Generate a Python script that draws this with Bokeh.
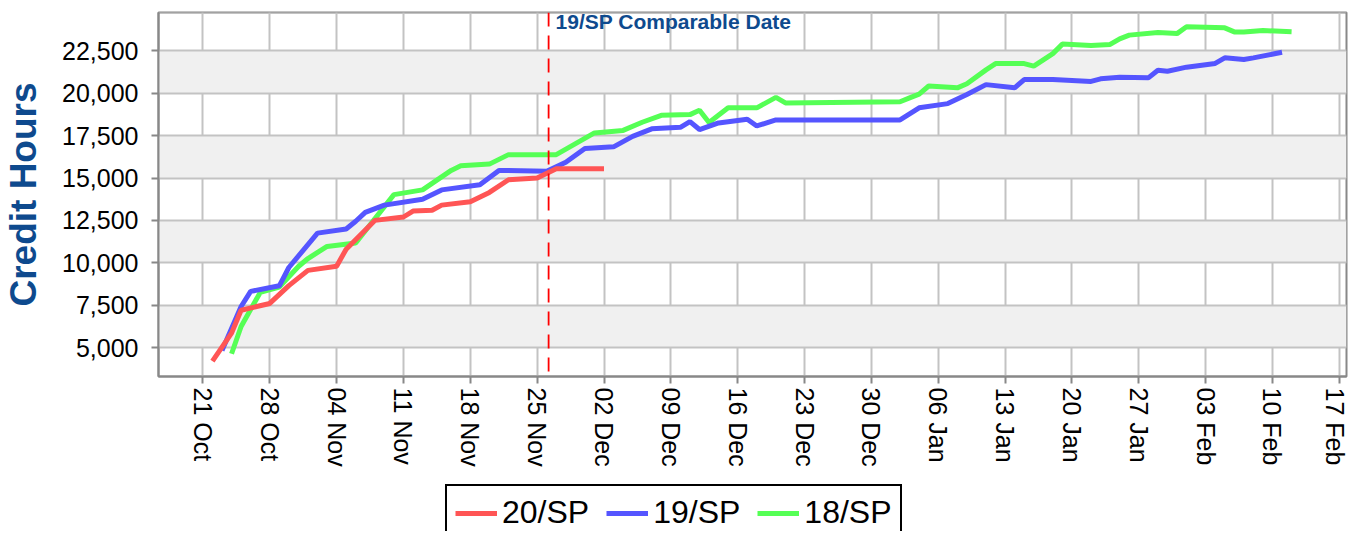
from bokeh.plotting import figure
from bokeh.layouts import column
from bokeh.models import (Range1d, FixedTicker, NumeralTickFormatter, Span, Label,
                          Legend, LegendItem)
from bokeh.embed import file_html
from bokeh.resources import INLINE

# x values are days counted from 21 Oct
tick_days = [0, 7, 14, 21, 28, 35, 42, 49, 56, 63, 70, 77, 84, 91, 98, 105, 112, 119]
tick_labels = ["21 Oct", "28 Oct", "04 Nov", "11 Nov", "18 Nov", "25 Nov", "02 Dec",
               "09 Dec", "16 Dec", "23 Dec", "30 Dec", "06 Jan", "13 Jan", "20 Jan",
               "27 Jan", "03 Feb", "10 Feb", "17 Feb"]
y_ticks = [5000, 7500, 10000, 12500, 15000, 17500, 20000, 22500]
grid_y_ticks = [5000, 7500, 10000, 12500, 15000, 17500, 20000, 22500, 25000]

series_names = ["20/SP", "19/SP", "18/SP"]
series_colors = ["#ff5555", "#5555ff", "#55ff55"]

red_days = [1, 3, 4, 7, 9, 11, 14, 15, 18, 21, 22, 24, 25, 28, 30, 32, 35, 37, 42]
red_vals = [4200, 5850, 7200, 7600, 8650, 9550, 9800, 10800, 12500, 12700, 13050, 13100,
            13400, 13600, 14150, 14900, 15000, 15550, 15550]

blue_days = [2, 4, 5, 8, 9, 12, 15, 16, 17, 19, 23, 25, 29, 31, 36, 38, 40, 43, 45, 47,
             50, 51, 52, 54, 57, 58, 60, 73, 75, 78, 80, 82, 85, 86, 89, 93, 94, 96, 99, 100,
             101, 103, 106, 107, 109, 110, 113]
blue_vals = [4820, 7420, 8310, 8640, 9720, 11750, 11990, 12450, 12970, 13400,
             13750, 14300, 14600, 15450, 15400, 15930, 16740, 16840, 17460, 17900,
             17990, 18330, 17860, 18250, 18470, 18070, 18430, 18430, 19140, 19390,
             19930, 20510, 20320, 20810, 20810, 20700, 20850, 20950, 20910, 21360,
             21300, 21540, 21760, 22090, 21990, 22090, 22420]

green_days = [3, 4, 6, 8, 10, 11, 13, 16, 20, 23, 26, 27, 30, 32, 37, 41, 44, 46, 48,
              51, 52, 53, 55, 58, 60, 61, 73, 74, 75, 76, 79, 80, 82, 83, 86, 87, 89, 90, 93,
              95, 96, 97, 100, 102, 103, 107, 108, 109, 111, 114]
green_vals = [4630, 6240, 8250, 8570, 9780, 10250, 10965, 11170, 14020,
              14300, 15450, 15720, 15820, 16380, 16380, 17660, 17810, 18290, 18700,
              18740, 19000, 18270, 19140, 19140, 19760, 19430, 19500, 19730, 19950,
              20430, 20320, 20560, 21380, 21750, 21750, 21600, 22340, 22900, 22820,
              22880, 23210, 23430, 23590, 23520, 23920, 23860, 23620, 23620, 23700, 23630]

comparable_day = 36.2
comparable_text = "19/SP Comparable Date"

FONT = "Liberation Sans"
GRID = "#c3c3c3"
AXIS = "#888888"
NAVY = "#0e4a8e"

p = figure(width=1348, height=482, output_backend="svg", toolbar_location=None,
           x_range=Range1d(-4.65, 119.75), y_range=Range1d(3290, 24765),
           min_border_left=158, min_border_right=2, min_border_top=12, min_border_bottom=106)
p.background_fill_color = "white"
p.border_fill_color = "white"
p.outline_line_color = AXIS
p.outline_line_width = 2

# x axis
p.xaxis.ticker = FixedTicker(ticks=tick_days)
p.xaxis.major_label_overrides = {d: l for d, l in zip(tick_days, tick_labels)}
p.xaxis.major_label_orientation = "vertical"
p.xaxis.major_label_standoff = 4
# y axis
p.yaxis.ticker = FixedTicker(ticks=y_ticks)
p.yaxis.formatter = NumeralTickFormatter(format="0,0")
p.yaxis.major_label_standoff = 13
p.yaxis.axis_label = "Credit Hours"
p.yaxis.axis_label_text_font = FONT
p.yaxis.axis_label_text_font_size = "37px"
p.yaxis.axis_label_text_font_style = "bold"
p.yaxis.axis_label_text_color = NAVY
p.yaxis.axis_label_standoff = 15

for ax in (p.xaxis, p.yaxis):
    ax.major_label_text_font = FONT
    ax.major_label_text_font_size = "25px"
    ax.major_label_text_color = "black"
    ax.axis_line_color = AXIS
    ax.axis_line_width = 2
    ax.major_tick_line_color = AXIS
    ax.major_tick_line_width = 2
    ax.major_tick_out = 7
    ax.major_tick_in = 0
    ax.minor_tick_out = 0
    ax.minor_tick_in = 0

# grids
p.xgrid.ticker = FixedTicker(ticks=tick_days)
p.ygrid.ticker = FixedTicker(ticks=grid_y_ticks)
for g in (p.xgrid, p.ygrid):
    g.grid_line_color = GRID
    g.grid_line_width = 2
p.ygrid.band_fill_color = "#f0f0f0"
p.ygrid.band_fill_alpha = 1.0

# series (green at the bottom, red on top)
p.line(green_days, green_vals, line_color=series_colors[2], line_width=5)
p.line(blue_days, blue_vals, line_color=series_colors[1], line_width=5)
p.line(red_days, red_vals, line_color=series_colors[0], line_width=5)

span = Span(location=comparable_day, dimension="height", line_color="#ff0000",
            line_dash="14 9", line_width=1.8)
p.add_layout(span)

lbl = Label(x=comparable_day, x_offset=7, y=367, y_units="screen",
            text=comparable_text, text_font=FONT, text_font_style="bold",
            text_font_size="21px", text_color=NAVY, text_baseline="top")
p.add_layout(lbl)

# legend strip below the chart (its frame is aligned with the chart's frame)
lg = figure(width=1348, height=49, output_backend="svg", toolbar_location=None,
            x_range=Range1d(0, 1), y_range=Range1d(0, 1),
            min_border_left=158, min_border_right=2, min_border_top=0, min_border_bottom=0)
lg.axis.visible = False
lg.grid.visible = False
lg.outline_line_color = None
lg.background_fill_color = "white"
lg.border_fill_color = "white"
items = []
for name, col in zip(series_names, series_colors):
    r = lg.line(x=[-2, -1], y=[-2, -2], line_color=col, line_width=5)
    items.append(LegendItem(label=name, renderers=[r]))
legend = Legend(items=items, orientation="horizontal", location=(287, -10),
                border_line_color="black", border_line_width=2, border_line_alpha=1,
                background_fill_color="white", background_fill_alpha=1,
                padding=8, spacing=17, glyph_width=42, glyph_height=30,
                label_standoff=5, label_text_font=FONT, label_text_font_size="32px",
                label_text_color="black", margin=0)
lg.add_layout(legend)

open("out.html", "w").write(file_html(column(p, lg, spacing=0), INLINE))
